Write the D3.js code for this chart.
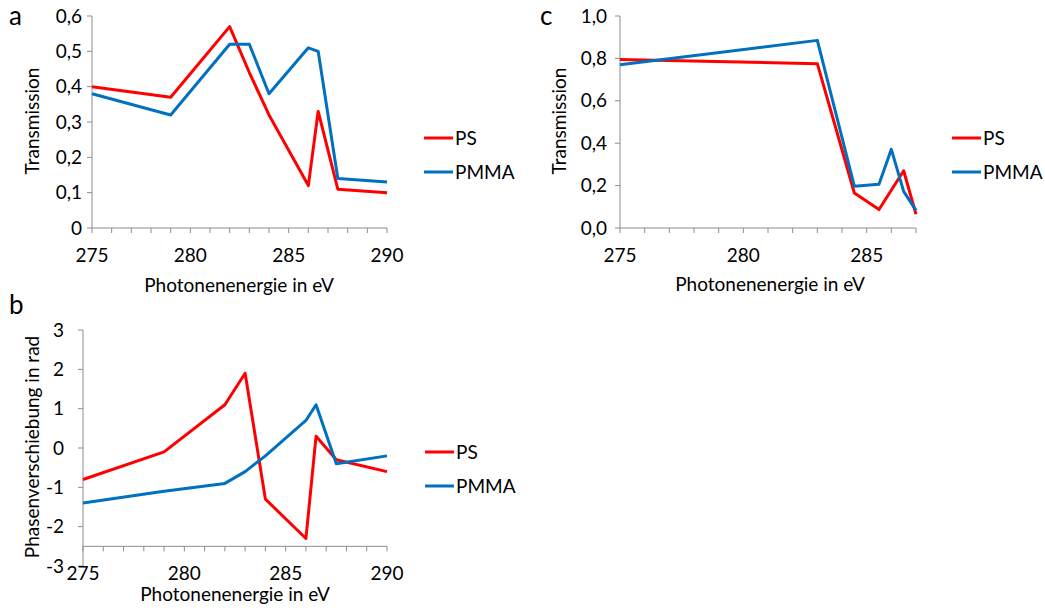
<!DOCTYPE html>
<html>
<head>
<meta charset="utf-8">
<script src="https://cdn.jsdelivr.net/npm/d3@7"></script>
<style>
  html, body { margin: 0; padding: 0; background: #fff; }
  svg text { font-family: Lato, "Open Sans", sans-serif; fill: #000; }
</style>
</head>
<body>
<svg id="fig" width="1045" height="612"></svg>
<script>
// Panel a: transmission vs photon energy
const energyA = [275, 279, 282, 283, 284, 286, 286.5, 287.5, 290];
const psTransA = [0.40, 0.37, 0.57, 0.44, 0.32, 0.12, 0.33, 0.11, 0.10];
const pmmaTransA = [0.38, 0.32, 0.52, 0.52, 0.38, 0.51, 0.50, 0.14, 0.13];
const yTicksA = [0, 0.1, 0.2, 0.3, 0.4, 0.5, 0.6];

// Panel b: phase shift vs photon energy
const energyB = [275, 279, 282, 283, 284, 286, 286.5, 287.5, 290];
const psPhaseB = [-0.8, -0.1, 1.1, 1.9, -1.3, -2.3, 0.3, -0.3, -0.6];
const pmmaPhaseB = [-1.4, -1.1, -0.9, -0.6, -0.2, 0.7, 1.1, -0.4, -0.2];
const yTicksB = [-3, -2, -1, 0, 1, 2, 3];

// Panel c: transmission vs photon energy (second sample set)
const energyCps = [275, 283, 284.5, 285.5, 286.5, 287];
const psTransC = [0.795, 0.775, 0.165, 0.087, 0.27, 0.065];
const energyCpmma = [275, 283, 284.5, 285.5, 286, 286.5, 287];
const pmmaTransC = [0.77, 0.885, 0.197, 0.206, 0.371, 0.173, 0.083];
const yTicksC = [0, 0.2, 0.4, 0.6, 0.8, 1.0];

const xLabelTicks = [275, 280, 285, 290];
const seriesNames = ["PS", "PMMA"];
const seriesColors = ["#ff0000", "#0070c0"];

const svg = d3.select("#fig");
const FS = 19;
const axisColor = "#8c8c8c";

const comma1 = v => d3.format(".1f")(v).replace(".", ",");

function panel(cfg) {
  const g = svg.append("g");
  const x = d3.scaleLinear().domain(cfg.xDomain).range(cfg.xRange);
  const y = d3.scaleLinear().domain(cfg.yDomain).range(cfg.yRange);
  const yAxisY = cfg.xAxisAt;

  // vertical axis
  g.append("line")
    .attr("x1", x(cfg.xDomain[0])).attr("x2", x(cfg.xDomain[0]))
    .attr("y1", y(cfg.yDomain[1])).attr("y2", y(cfg.yDomain[0]))
    .attr("stroke", axisColor).attr("stroke-width", 1);
  g.selectAll(".yt").data(cfg.yTicks).enter().append("line")
    .attr("x1", x(cfg.xDomain[0]) - 5).attr("x2", x(cfg.xDomain[0]))
    .attr("y1", d => y(d)).attr("y2", d => y(d))
    .attr("stroke", axisColor);
  g.selectAll(".yl").data(cfg.yTicks).enter().append("text")
    .attr("x", cfg.yLabelRight)
    .attr("y", d => y(d))
    .attr("dy", "0.35em")
    .attr("text-anchor", "end")
    .attr("font-size", FS)
    .text(cfg.yFormat);

  // horizontal axis with minor ticks every 1 eV
  g.append("line")
    .attr("x1", x(cfg.xDomain[0])).attr("x2", x(cfg.xDomain[1]))
    .attr("y1", y(yAxisY)).attr("y2", y(yAxisY))
    .attr("stroke", axisColor);
  g.selectAll(".xt").data(d3.range(cfg.xDomain[0], cfg.xDomain[1] + 0.5, 1)).enter().append("line")
    .attr("x1", d => x(d)).attr("x2", d => x(d))
    .attr("y1", y(yAxisY)).attr("y2", y(yAxisY) + 5)
    .attr("stroke", axisColor);
  g.selectAll(".xl").data(xLabelTicks.filter(t => t <= cfg.xDomain[1])).enter().append("text")
    .attr("x", d => x(d))
    .attr("y", cfg.xLabelY)
    .attr("dy", "0.35em")
    .attr("text-anchor", "middle")
    .attr("font-size", FS)
    .text(d => d);

  // axis titles
  g.append("text")
    .attr("x", cfg.xTitle[0]).attr("y", cfg.xTitle[1])
    .attr("dy", "0.35em").attr("text-anchor", "middle")
    .attr("font-size", FS)
    .text("Photonenenergie in eV");
  g.append("text")
    .attr("transform", `translate(${cfg.yTitle[0]},${cfg.yTitle[1]}) rotate(-90)`)
    .attr("dy", "0.35em").attr("text-anchor", "middle")
    .attr("font-size", FS)
    .text(cfg.yTitleText);

  // panel letter
  g.append("text")
    .attr("x", cfg.letter[0]).attr("y", cfg.letter[1])
    .attr("font-size", 26)
    .text(cfg.letterText);

  // data lines
  const line = d3.line().x(d => x(d[0])).y(d => y(d[1]));
  cfg.series.forEach((s, i) => {
    g.append("path")
      .datum(d3.zip(s.xs, s.ys))
      .attr("d", line)
      .attr("fill", "none")
      .attr("stroke", seriesColors[i])
      .attr("stroke-width", 3)
      .attr("stroke-linejoin", "round")
      .attr("stroke-linecap", "butt");
  });

  // legend
  seriesNames.forEach((name, i) => {
    const ly = cfg.legend[1] + i * 34;
    g.append("line")
      .attr("x1", cfg.legend[0]).attr("x2", cfg.legend[0] + 29)
      .attr("y1", ly).attr("y2", ly)
      .attr("stroke", seriesColors[i]).attr("stroke-width", 3);
    g.append("text")
      .attr("x", cfg.legend[0] + 31).attr("y", ly)
      .attr("dy", "0.35em")
      .attr("font-size", FS)
      .text(name);
  });
}

panel({
  xDomain: [275, 290], xRange: [92, 387],
  yDomain: [0, 0.6], yRange: [228, 16],
  xAxisAt: 0, yTicks: yTicksA,
  yFormat: d => d === 0 ? "0" : comma1(d),
  yLabelRight: 82, xLabelY: 255,
  xTitle: [239, 285], yTitle: [32, 121], yTitleText: "Transmission",
  letter: [9, 25], letterText: "a",
  legend: [424, 138],
  series: [{ xs: energyA, ys: psTransA }, { xs: energyA, ys: pmmaTransA }]
});

panel({
  xDomain: [275, 290], xRange: [83, 387],
  yDomain: [-3, 3], yRange: [566, 330],
  xAxisAt: -2.5, yTicks: yTicksB,
  yFormat: d => String(d),
  yLabelRight: 64, xLabelY: 573,
  xTitle: [235, 594], yTitle: [32, 447], yTitleText: "Phasenverschiebung in rad",
  letter: [9, 314], letterText: "b",
  legend: [425, 452],
  series: [{ xs: energyB, ys: psPhaseB }, { xs: energyB, ys: pmmaPhaseB }]
});

panel({
  xDomain: [275, 287], xRange: [620, 916],
  yDomain: [0, 1], yRange: [228, 16],
  xAxisAt: 0, yTicks: yTicksC,
  yFormat: comma1,
  yLabelRight: 607, xLabelY: 255,
  xTitle: [770, 284], yTitle: [559, 121], yTitleText: "Transmission",
  letter: [540, 25], letterText: "c",
  legend: [952, 138],
  series: [{ xs: energyCps, ys: psTransC }, { xs: energyCpmma, ys: pmmaTransC }]
});
</script>
</body>
</html>
